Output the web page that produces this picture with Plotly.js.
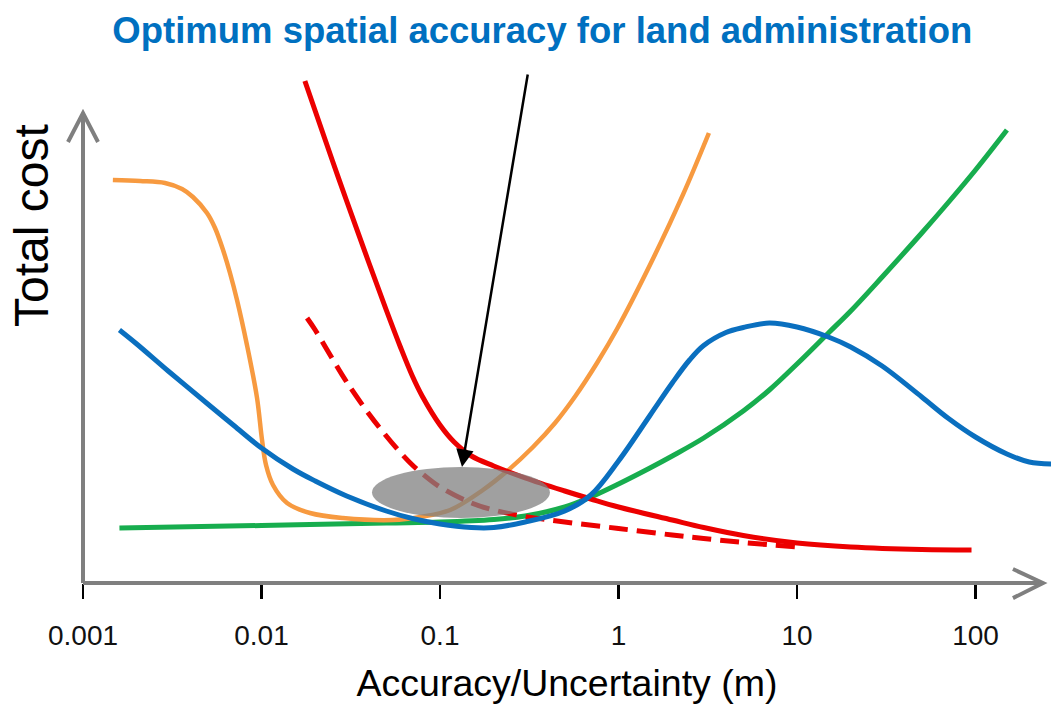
<!DOCTYPE html>
<html>
<head>
<meta charset="utf-8">
<script src="https://cdn.plot.ly/plotly-3.0.1.min.js"></script>
<style>
  html, body { margin: 0; padding: 0; background: #ffffff; }
  #chart { width: 1051px; height: 704px; }
</style>
</head>
<body>
<div id="chart"></div>
<script>
// ---- Data (x = accuracy/uncertainty in m, y = relative total cost) ----
const tickValues = [0.001, 0.01, 0.1, 1, 10, 100];
const tickLabels = ['0.001', '0.01', '0.1', '1', '10', '100'];

const orangeX = [0.00147, 0.00209, 0.00288, 0.00359, 0.00413, 0.00495, 0.00549, 0.00609, 0.00666, 0.00729, 0.00829, 0.00944, 0.01007, 0.0106, 0.0116, 0.0139, 0.0187, 0.0286, 0.0545, 0.0773, 0.114, 0.174, 0.237, 0.332, 0.441, 0.571, 0.758, 0.981, 1.50, 2.30, 3.21];
const orangeY = [403, 402, 400, 394, 386, 370, 355, 333, 310, 283, 238, 185, 143, 118, 98, 80, 70, 65, 63, 66, 73, 93, 111.7, 136, 160, 186.5, 220, 254, 318, 388.6, 450];

const redX = [0.0175, 0.02, 0.025, 0.03, 0.04, 0.05, 0.06, 0.07, 0.08, 0.1, 0.12, 0.15, 0.2, 0.3, 0.5, 0.7, 1, 2, 3, 5, 10, 20, 50, 95];
const redY = [502, 472, 422, 382, 320, 273, 236, 207, 186, 158, 141, 127, 117, 105, 92, 84, 76, 63, 55.5, 47.5, 40, 36, 33.5, 33];

const redDashX = [0.018, 0.02, 0.025, 0.03, 0.04, 0.05, 0.06, 0.07, 0.08, 0.1, 0.15, 0.2, 0.3, 0.5, 1, 2, 3, 5, 10];
const redDashY = [265, 253, 224, 201, 169, 147, 130.5, 118, 109, 96, 80, 73, 66.5, 61, 54.5, 48, 44.5, 40.5, 36];

const blueX = [0.0016, 0.002, 0.003, 0.005, 0.007, 0.01, 0.015, 0.02, 0.03, 0.05, 0.07, 0.1, 0.15, 0.2, 0.3, 0.5, 0.7, 1, 1.5, 2, 2.5, 3, 4, 5, 7, 10, 15, 20, 30, 50, 70, 100, 150, 200, 270];
const blueY = [253, 239, 212, 179, 157.5, 135, 114, 102, 87, 72, 64.5, 59, 55.5, 55.5, 61, 72, 88, 122, 167.5, 200, 223, 237.5, 250.5, 255.5, 260, 256, 246, 236, 217, 186, 165, 146, 129, 121, 119];

const greenX = [0.0016, 0.01, 0.05, 0.1, 0.2, 0.3, 0.5, 0.7, 1, 1.5, 2, 3, 5, 7, 10, 15, 20, 30, 50, 70, 100, 150];
const greenY = [55, 57.5, 60, 61, 63.5, 67, 76, 86, 99, 115, 127, 145, 172, 193, 219, 250, 272, 306, 350, 380, 413, 453];

// Optimum zone (grey ellipse) and pointer arrow tip
const optimumZoneX = [0.0416, 0.413];
const optimumZoneY = [65, 116];
const arrowTipX = 0.1328;
const arrowTipY = 116;

const font = 'Liberation Sans, Arial, sans-serif';

function curve(x, y, color, width, dash) {
  return {
    x: x, y: y, type: 'scatter', mode: 'lines',
    line: { color: color, width: width, shape: 'spline', smoothing: 1, dash: dash || 'solid' },
    hoverinfo: 'skip', showlegend: false
  };
}

const traces = [
  curve(greenX, greenY, '#17ad4e', 5),
  curve(orangeX, orangeY, '#f79a40', 4.5),
  curve(redDashX, redDashY, '#ec0000', 5, '19px,9px'),
  curve(redX, redY, '#ec0000', 5),
  curve(blueX, blueY, '#0a6fbf', 5)
];

const axisGrey = '#7f7f7f';
const layout = {
  width: 1051, height: 704,
  margin: { l: 83, r: 0, t: 0, b: 121 },
  paper_bgcolor: '#ffffff', plot_bgcolor: '#ffffff',
  showlegend: false,
  title: {
    text: '<b>Optimum spatial accuracy for land administration</b>',
    font: { family: font, size: 36.5, color: '#0070c0' },
    xref: 'container', yref: 'container',
    x: 0.516, y: 1 - 30 / 704, xanchor: 'center', yanchor: 'middle'
  },
  xaxis: {
    type: 'log',
    range: [-3, 2.423],
    tickvals: tickValues, ticktext: tickLabels,
    ticks: 'outside', ticklen: 15, tickwidth: 2.5, tickcolor: '#000000',
    ticklabelstandoff: 12,
    tickfont: { family: font, size: 28, color: '#111111' },
    showgrid: false, zeroline: false, showline: false,
    title: {
      text: 'Accuracy/Uncertainty (m)',
      font: { family: font, size: 37.5, color: '#000000' },
      standoff: 24
    },
    fixedrange: true
  },
  yaxis: {
    range: [0, 583],
    visible: false, showgrid: false, zeroline: false, fixedrange: true
  },
  shapes: [
    // x axis with open arrow head
    { type: 'line', xref: 'paper', yref: 'paper', x0: 0, y0: 0, x1: 0.9917, y1: 0,
      line: { color: axisGrey, width: 4 } },
    { type: 'path', xref: 'paper', yref: 'paper',
      path: 'M 0.9607 0.024 L 0.9917 0 L 0.9607 -0.026',
      line: { color: axisGrey, width: 4 } },
    // y axis with open arrow head
    { type: 'line', xref: 'paper', yref: 'paper', x0: 0, y0: 0, x1: 0, y1: 0.8062,
      line: { color: axisGrey, width: 4 } },
    { type: 'path', xref: 'paper', yref: 'paper',
      path: 'M -0.0155 0.7564 L 0 0.8062 L 0.0155 0.7564',
      line: { color: axisGrey, width: 4 } },
    // optimum zone
    { type: 'circle', xref: 'x', yref: 'y', layer: 'above',
      x0: optimumZoneX[0], x1: optimumZoneX[1], y0: optimumZoneY[0], y1: optimumZoneY[1],
      fillcolor: 'rgba(128,128,128,0.75)', line: { width: 0 } }
  ],
  annotations: [
    { text: 'Total cost', textangle: -90, showarrow: false,
      xref: 'paper', yref: 'paper', x: (31 - 83) / 968, y: 1 - 226 / 583,
      xanchor: 'center', yanchor: 'middle',
      font: { family: font, size: 48, color: '#000000' } },
    { text: '', showarrow: true, xref: 'x', yref: 'y',
      x: Math.log10(arrowTipX), y: arrowTipY, ax: 66, ay: -394,
      arrowhead: 2, arrowsize: 1.4, arrowwidth: 2.5, arrowcolor: '#000000', standoff: 0 }
  ]
};

Plotly.newPlot('chart', traces, layout, { staticPlot: true, displayModeBar: false });
</script>
</body>
</html>
